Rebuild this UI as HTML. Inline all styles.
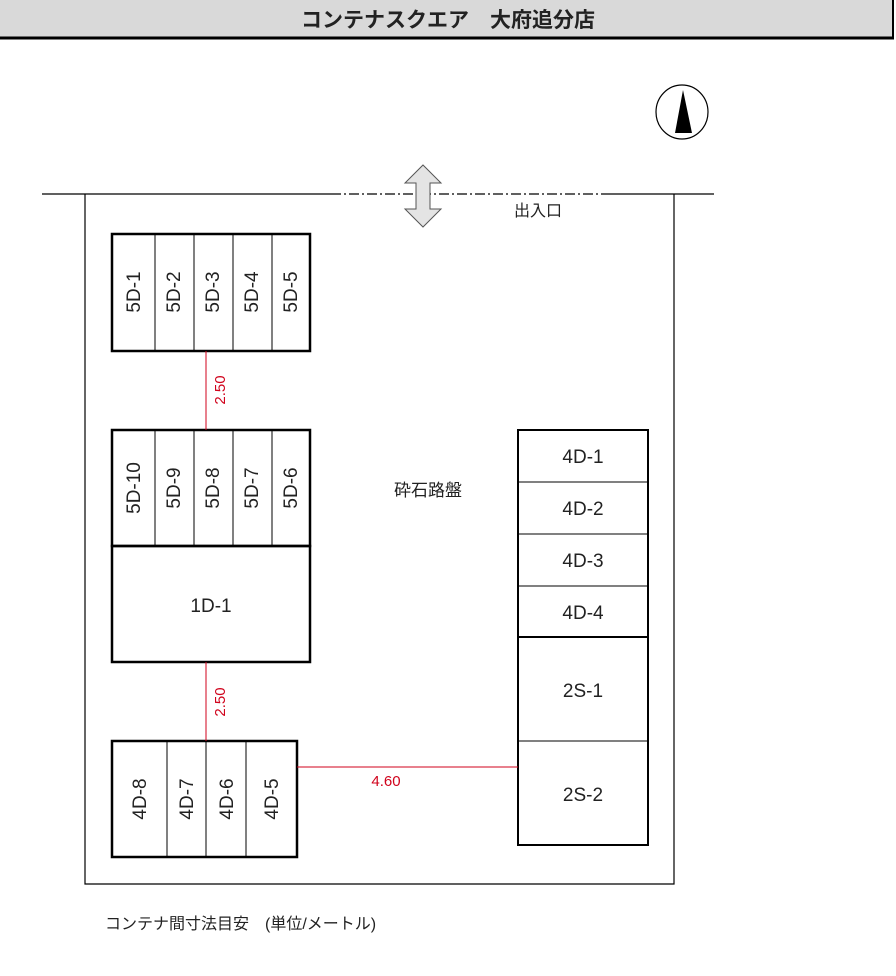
<!DOCTYPE html>
<html><head><meta charset="utf-8"><style>
html,body{margin:0;padding:0;background:#fff}
svg{display:block}
text{font-family:"Liberation Sans","Noto Sans CJK JP",sans-serif;fill:#222}
</style></head><body>
<svg width="896" height="976" viewBox="0 0 896 976" xmlns="http://www.w3.org/2000/svg">
<rect x="0" y="0" width="893" height="38" fill="#d9d9d9"/>
<line x1="0" y1="38" x2="894" y2="38" stroke="#000" stroke-width="3"/>
<line x1="893" y1="0" x2="893" y2="39" stroke="#000" stroke-width="2"/>
<text x="448" y="27" font-size="21" font-weight="bold" text-anchor="middle">コンテナスクエア　大府追分店</text>
<ellipse cx="682" cy="112" rx="26" ry="27" fill="#fff" stroke="#000" stroke-width="1.2"/>
<polygon points="683,90 675,133 692,133" fill="#000"/>
<line x1="42" y1="194" x2="331" y2="194" stroke="#000" stroke-width="1.2"/>
<line x1="331" y1="194" x2="606" y2="194" stroke="#000" stroke-width="1.2" stroke-dasharray="10,3,2,3"/>
<line x1="606" y1="194" x2="714" y2="194" stroke="#000" stroke-width="1.2"/>
<polyline points="85,194 85,884 674,884 674,194" fill="none" stroke="#000" stroke-width="1.2"/>
<polygon points="423,165 441,183 430,183 430,209 441,209 423,227 405,209 416,209 416,183 405,183" fill="#e4e4e4" stroke="#555" stroke-width="1"/>
<text x="538" y="216" font-size="16" text-anchor="middle">出入口</text>
<g fill="none" stroke="#000">
<rect x="112" y="234" width="198" height="117" stroke-width="2.5"/>
<line x1="155" y1="234" x2="155" y2="351"/><line x1="194" y1="234" x2="194" y2="351"/><line x1="233" y1="234" x2="233" y2="351"/><line x1="272" y1="234" x2="272" y2="351"/>
<rect x="112" y="430" width="198" height="116" stroke-width="2.5"/>
<line x1="155" y1="430" x2="155" y2="546"/><line x1="194" y1="430" x2="194" y2="546"/><line x1="233" y1="430" x2="233" y2="546"/><line x1="272" y1="430" x2="272" y2="546"/>
<rect x="112" y="546" width="198" height="116" stroke-width="2.5"/>
<rect x="112" y="741" width="185" height="116" stroke-width="2.5"/>
<line x1="167" y1="741" x2="167" y2="857"/><line x1="206" y1="741" x2="206" y2="857"/><line x1="246" y1="741" x2="246" y2="857"/>
<rect x="518" y="430" width="130" height="415" stroke-width="2"/>
<line x1="518" y1="482" x2="648" y2="482"/><line x1="518" y1="534" x2="648" y2="534"/><line x1="518" y1="586" x2="648" y2="586"/>
<line x1="518" y1="637" x2="648" y2="637" stroke-width="2"/><line x1="518" y1="741" x2="648" y2="741"/>
</g>
<g stroke="#d0021b" stroke-width="1">
<line x1="206" y1="351" x2="206" y2="430"/><line x1="206" y1="662" x2="206" y2="741"/><line x1="297" y1="767" x2="518" y2="767"/>
</g>
<g font-size="15">
<text transform="translate(225,390) rotate(-90)" text-anchor="middle" style="fill:#d0021b">2.50</text>
<text transform="translate(225,702) rotate(-90)" text-anchor="middle" style="fill:#d0021b">2.50</text>
<text x="386" y="786" text-anchor="middle" style="fill:#d0021b">4.60</text>
</g>
<g font-size="19" text-anchor="middle">
<text transform="translate(140,292) rotate(-90)">5D-1</text>
<text transform="translate(180,292) rotate(-90)">5D-2</text>
<text transform="translate(219,292) rotate(-90)">5D-3</text>
<text transform="translate(258,292) rotate(-90)">5D-4</text>
<text transform="translate(297,292) rotate(-90)">5D-5</text>
<text transform="translate(140,488) rotate(-90)">5D-10</text>
<text transform="translate(180,488) rotate(-90)">5D-9</text>
<text transform="translate(219,488) rotate(-90)">5D-8</text>
<text transform="translate(258,488) rotate(-90)">5D-7</text>
<text transform="translate(297,488) rotate(-90)">5D-6</text>
<text x="211" y="612">1D-1</text>
<text transform="translate(146,799) rotate(-90)">4D-8</text>
<text transform="translate(193,799) rotate(-90)">4D-7</text>
<text transform="translate(233,799) rotate(-90)">4D-6</text>
<text transform="translate(278,799) rotate(-90)">4D-5</text>
<text x="583" y="463">4D-1</text>
<text x="583" y="515">4D-2</text>
<text x="583" y="567">4D-3</text>
<text x="583" y="619">4D-4</text>
<text x="583" y="697">2S-1</text>
<text x="583" y="801">2S-2</text>
</g>
<text x="428" y="496" font-size="17" text-anchor="middle">砕石路盤</text>
<text x="105" y="929" font-size="16">コンテナ間寸法目安　(単位/メートル)</text>
</svg>
</body></html>
